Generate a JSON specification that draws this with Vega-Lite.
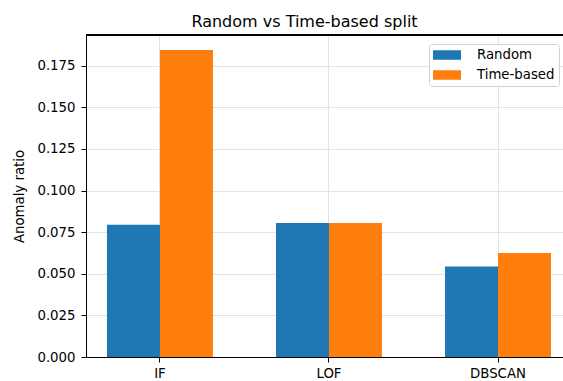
{
  "$schema": "https://vega.github.io/schema/vega-lite/v6.json",
  "autosize": "none",
  "width": 477,
  "height": 322,
  "padding": {"left": 86, "top": 35, "right": 0, "bottom": 24},
  "background": "white",
  "title": {
    "text": "Random vs Time-based split",
    "font": "DejaVu Sans",
    "fontSize": 16,
    "fontWeight": "normal",
    "color": "#000000",
    "anchor": "middle",
    "frame": "group",
    "baseline": "bottom",
    "offset": 4,
    "dx": -20,
    "dy": 15
  },
  "config": {
    "view": {"stroke": null},
    "font": "DejaVu Sans"
  },
  "data": {
    "values": [
      {"method": "IF", "split": "Random", "value": 0.0795},
      {"method": "IF", "split": "Time-based", "value": 0.1845},
      {"method": "LOF", "split": "Random", "value": 0.0805},
      {"method": "LOF", "split": "Time-based", "value": 0.0805},
      {"method": "DBSCAN", "split": "Random", "value": 0.0544},
      {"method": "DBSCAN", "split": "Time-based", "value": 0.0625}
    ]
  },
  "layer": [
    {
      "mark": {"type": "bar"},
      "encoding": {
        "x": {
          "field": "method",
          "type": "nominal",
          "sort": ["IF", "LOF", "DBSCAN"],
          "scale": {"paddingInner": 0.373, "paddingOuter": 0.0976, "align": 0.636},
          "axis": {
            "title": null,
            "labelAngle": 0,
            "labelFont": "DejaVu Sans",
            "labelFontSize": 13.3,
            "labelColor": "#000000",
            "labelPadding": 4,
            "tickColor": "#000000",
            "tickSize": 5,
            "domainColor": "#000000",
            "domainWidth": 1,
            "grid": true,
            "gridColor": "#e3e3e3",
            "gridWidth": 1,
            "bandPosition": 0.5
          }
        },
        "xOffset": {
          "field": "split",
          "type": "nominal",
          "sort": ["Random", "Time-based"],
          "scale": {"paddingInner": 0, "paddingOuter": 0}
        },
        "y": {
          "field": "value",
          "type": "quantitative",
          "scale": {"domain": [0, 0.1935], "nice": false, "zero": true},
          "axis": {
            "title": "Anomaly ratio",
            "titleFont": "DejaVu Sans",
            "titleFontSize": 13.3,
            "titleFontWeight": "normal",
            "titleColor": "#000000",
            "titlePadding": 10,
            "values": [0, 0.025, 0.05, 0.075, 0.1, 0.125, 0.15, 0.175],
            "format": ".3f",
            "labelFont": "DejaVu Sans",
            "labelFontSize": 13.3,
            "labelColor": "#000000",
            "labelPadding": 6,
            "tickColor": "#000000",
            "tickSize": 5,
            "domainColor": "#000000",
            "domainWidth": 1,
            "gridColor": "#e3e3e3",
            "gridWidth": 1
          }
        },
        "color": {
          "field": "split",
          "type": "nominal",
          "sort": ["Random", "Time-based"],
          "scale": {"domain": ["Random", "Time-based"], "range": ["#1f77b4", "#ff7f0e"]},
          "legend": {
            "title": null,
            "orient": "none",
            "legendX": 343,
            "legendY": 9,
            "padding": 4,
            "strokeColor": "#d0d0d0",
            "fillColor": "rgba(255,255,255,0.85)",
            "cornerRadius": 3,
            "symbolType": "M-2,-0.68H2V0.68H-2Z",
            "symbolSize": 196,
            "symbolOffset": 7,
            "symbolStrokeWidth": 0,
            "symbolOpacity": 1,
            "labelFont": "DejaVu Sans",
            "labelFontSize": 13.3,
            "labelColor": "#000000",
            "labelOffset": 23,
            "rowPadding": 6
          }
        }
      }
    },
    {
      "mark": {"type": "rule", "color": "#000000", "strokeWidth": 1},
      "encoding": {"y": {"datum": 0.1935}}
    }
  ]
}
